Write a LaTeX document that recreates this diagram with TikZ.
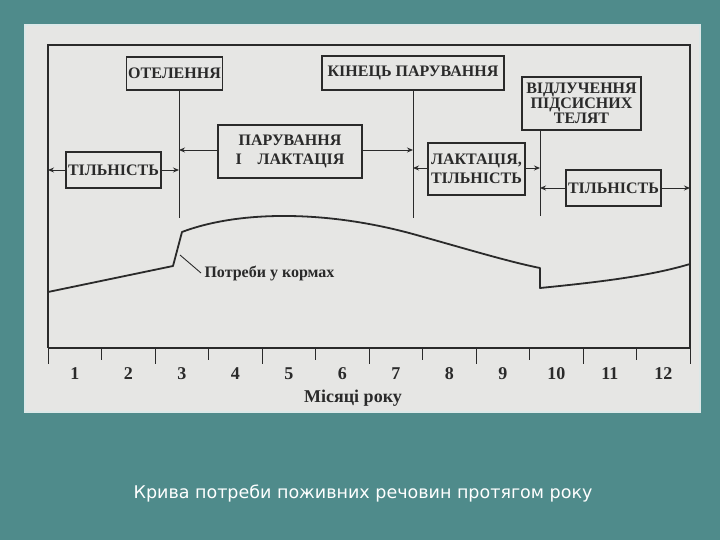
\documentclass[tikz,border=0pt]{standalone}
\usepackage{fontspec}
\setmainfont{Liberation Serif}
\newfontfamily\capfont{DejaVu Sans}
\usetikzlibrary{arrows.meta}
\definecolor{teal0}{HTML}{4F8B8B}
\definecolor{paper}{HTML}{E6E6E4}
\definecolor{ink}{HTML}{2A2A2A}
\tikzset{
  lbl/.style={draw=ink,line width=1.3pt,fill=paper,font=\bfseries\fontsize{16}{15}\selectfont,text=ink,align=center,inner sep=2pt},
  vl/.style={ink,line width=1pt},
  ar/.style={ink,line width=0.9pt,-{Stealth[length=6pt,width=5pt]}},
  num/.style={font=\bfseries\fontsize{18}{18}\selectfont,text=ink}
}
\begin{document}
\begin{tikzpicture}[x=1pt,y=-1pt]
\useasboundingbox (0,0) rectangle (720,540);
\fill[teal0] (0,0) rectangle (720,540);
\fill[paper,draw=white!80!teal0,line width=2pt] (25,25) rectangle (700,412);
% frame
\draw[ink,line width=1.2pt] (48,348) -- (48,45) -- (690,45) -- (690,348);
\draw[ink,line width=1.4pt] (48,348) -- (690,348);
\foreach \i in {0,...,12} \draw[ink,line width=1pt] ({48+53.5*\i},348) -- ({48+53.5*\i},{348+ifthenelse(mod(\i,2)==0,16,12)});
\foreach \i in {1,...,12} \node[num] (m\i) at ({48+53.5*\i-26.75},374) {\i};
\node[font=\bfseries\fontsize{18}{18}\selectfont,text=ink] (mx) at (353,398) {Місяці року};
% vertical markers
\coordinate (v1t) at (179,90); \coordinate (v1b) at (179,218);
\coordinate (v2t) at (413,90); \coordinate (v2b) at (413,218);
\coordinate (v3t) at (540,130); \coordinate (v3b) at (540,216);
\draw[vl] (v1t) -- (v1b); \draw[vl] (v2t) -- (v2b); \draw[vl] (v3t) -- (v3b);
% top boxes
\node[lbl,minimum width=95,minimum height=33] (otel) at (174.5,73.5) {ОТЕЛЕННЯ};
\node[lbl,minimum width=182,minimum height=34] (kin) at (413,73) {КІНЕЦЬ ПАРУВАННЯ};
\node[lbl,minimum width=119,minimum height=53,font=\bfseries\fontsize{16}{13}\selectfont] (vid) at (581.5,103.5) {ВІДЛУЧЕННЯ\\ПІДСИСНИХ\\ТЕЛЯТ};
% period boxes
\node[lbl,minimum width=95,minimum height=36] (t1) at (113.5,170) {ТІЛЬНІСТЬ};
\node[lbl,minimum width=144,minimum height=53,font=\bfseries\fontsize{16}{19}\selectfont] (pl) at (290,151.5) {ПАРУВАННЯ\\І\quad ЛАКТАЦІЯ};
\node[lbl,minimum width=97,minimum height=52,font=\bfseries\fontsize{16}{19}\selectfont] (lt) at (476.5,169) {ЛАКТАЦІЯ,\\ТІЛЬНІСТЬ};
\node[lbl,minimum width=93,minimum height=36] (t2) at (613.5,188) {ТІЛЬНІСТЬ};
% arrow ends
\coordinate (a1l) at (48,170); \coordinate (a1r) at (179,170);
\coordinate (a2l) at (179,150); \coordinate (a2r) at (413,150);
\coordinate (a3l) at (413,168); \coordinate (a3r) at (540,168);
\coordinate (a4l) at (540,188); \coordinate (a4r) at (690,188);
\draw[ar] (t1.west) -- (a1l); \draw[ar] (t1.east) -- (a1r);
\draw[ar] (pl.west|-a2l) -- (a2l); \draw[ar] (pl.east|-a2r) -- (a2r);
\draw[ar] (lt.west|-a3l) -- (a3l); \draw[ar] (lt.east|-a3r) -- (a3r);
\draw[ar] (t2.west) -- (a4l); \draw[ar] (t2.east) -- (a4r);
% curve
\draw[ink,line width=1.8pt,line join=round] (48,292) -- (173,266) -- (182,232)
  .. controls (240,210) and (330,210) .. (420,236)
  .. controls (470,250) and (510,262) .. (540,268) -- (540,288)
  .. controls (600,282) and (650,276) .. (690,264);
\node[font=\bfseries\fontsize{16}{16}\selectfont,text=ink,anchor=west] (need) at (201,273) {Потреби у кормах};
\coordinate (lead) at (180,255);
\draw[ink,line width=0.9pt] (lead) -- (need.west);
% caption
\node[text=white,font=\capfont\fontsize{17.5}{18}\selectfont] (cap) at (363,494) {Крива потреби поживних речовин протягом року};
\end{tikzpicture}
\end{document}
